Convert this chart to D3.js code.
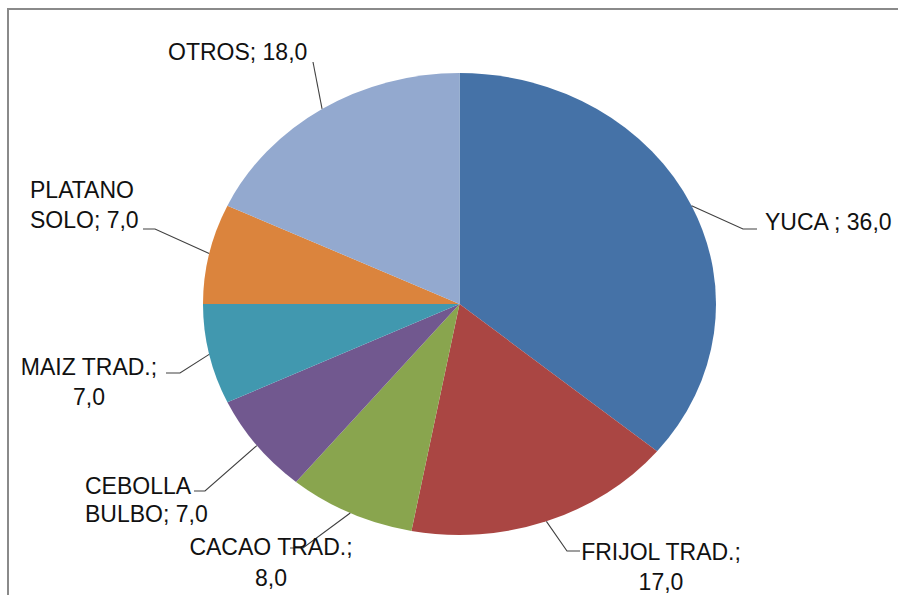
<!DOCTYPE html>
<html>
<head>
<meta charset="utf-8">
<script src="https://cdn.jsdelivr.net/npm/d3@7"></script>
<style>
  html, body { margin: 0; padding: 0; background: #fff; overflow: hidden; }
  svg { display: block; }
  text { font-family: "Liberation Sans", Arial, sans-serif; font-size: 23px; fill: #111; }
</style>
</head>
<body>
<svg id="chart" width="898" height="595"></svg>
<script>
// ---- data ----
const categories = ["YUCA ", "FRIJOL TRAD.", "CACAO TRAD.", "CEBOLLA BULBO", "MAIZ TRAD.", "PLATANO SOLO", "OTROS"];
const values = [36.0, 17.0, 8.0, 7.0, 7.0, 7.0, 18.0];
const colors = ["#4572A7", "#AA4643", "#89A54E", "#71588F", "#4198AF", "#DB843D", "#93A9CF"];

// ---- label layout (positions only) ----
const labelLayout = [
  { wrap: 99, anchor: "start",  x: 765, y: [230],      elbow: [743, 229], end: [757, 229] },
  { wrap: 2,  anchor: "middle", x: 661, y: [560, 590], elbow: [567, 551], end: [580, 551] },
  { wrap: 2,  anchor: "middle", x: 271, y: [555, 586], elbow: [303, 548], end: [290, 548] },
  { wrap: 1,  anchor: "start",  x: 85,  y: [494, 522], elbow: [205, 491], end: [194, 491] },
  { wrap: 2,  anchor: "middle", x: 89,  y: [375, 405], elbow: [180, 373], end: [166, 373] },
  { wrap: 1,  anchor: "start",  x: 30,  y: [198, 228], elbow: [155, 229], end: [143, 229] },
  { wrap: 99, anchor: "start",  x: 168, y: [60],       elbow: [313, 62],  end: [313, 62] }
];

const W = 898, H = 595;
const cx = 459.5, cy = 304, rx = 256.5, ry = 231;

const svg = d3.select("#chart");

// frame (top and left edges visible only)
svg.append("path")
  .attr("d", `M8,${H} L8,9 L${W},9`)
  .attr("fill", "none").attr("stroke", "#8a8a8a").attr("stroke-width", 2);

const data = categories.map((c, i) => ({ cat: c, value: values[i], color: colors[i], layout: labelLayout[i] }));

const pie = d3.pie().sort(null).value(d => d.value);
const arcs = pie(data);
const arc = d3.arc().innerRadius(0).outerRadius(ry);

const g = svg.append("g")
  .attr("transform", `translate(${cx},${cy}) scale(${rx / ry},1)`);

g.selectAll("path")
  .data(arcs)
  .join("path")
  .attr("d", arc)
  .attr("fill", d => d.data.color);

const fmt = v => d3.format(".1f")(v).replace(".", ",");

// leaders
const lines = svg.append("g");
arcs.forEach(a => {
  const mid = (a.startAngle + a.endAngle) / 2;
  const sx = cx + rx * Math.sin(mid);
  const sy = cy - ry * Math.cos(mid);
  const L = a.data.layout;
  lines.append("polyline")
    .attr("points", [[sx, sy], L.elbow, L.end].map(p => p.join(",")).join(" "))
    .attr("fill", "none")
    .attr("stroke", "#404040")
    .attr("stroke-width", 1.1);
});

// labels
const labels = svg.append("g");
arcs.forEach(a => {
  const L = a.data.layout;
  const full = `${a.data.cat}; ${fmt(a.data.value)}`;
  const words = full.split(" ");
  let parts;
  if (L.y.length === 1) parts = [full];
  else parts = [words.slice(0, L.wrap).join(" "), words.slice(L.wrap).join(" ")];
  const t = labels.append("text").attr("text-anchor", L.anchor);
  parts.forEach((p, i) => {
    t.append("tspan").attr("x", L.x).attr("y", L.y[i]).text(p);
  });
});
</script>
</body>
</html>
